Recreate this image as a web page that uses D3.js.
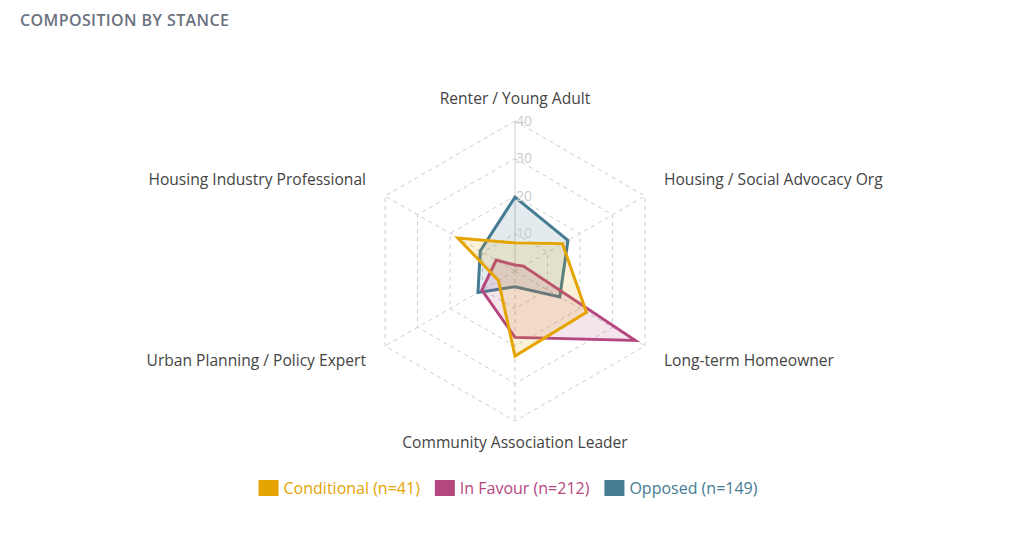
<!DOCTYPE html>
<html>
<head>
<meta charset="utf-8">
<script src="https://cdn.jsdelivr.net/npm/d3@7"></script>
<style>
  body { margin: 0; background: #fff; font-family: 'Open Sans', sans-serif; }
  svg { display: block; }
</style>
</head>
<body>
<svg id="chart" width="1024" height="534"></svg>
<script>
// axes go clockwise starting at the top
const axes = [
  'Renter / Young Adult',
  'Housing / Social Advocacy Org',
  'Long-term Homeowner',
  'Community Association Leader',
  'Urban Planning / Policy Expert',
  'Housing Industry Professional'
]
const seriesNames = ['Conditional', 'In Favour', 'Opposed']
const seriesCounts = [41, 212, 149]
const seriesColors = ['#e5a400', '#b5477f', '#457b93']

const conditional = [7.5, 14.6, 22.0, 22.7, 5.1, 17.6]
const inFavour = [1.6, 2.6, 37.0, 17.7, 10.2, 5.8]
const opposed = [19.7, 16.3, 13.8, 4.2, 11.4, 10.7]
const seriesValues = [conditional, inFavour, opposed]

const ringTicks = [10, 20, 30, 40]

const svg = d3.select('#chart')
const cx = 515
const cy = 271
const R = 150

let rScale = d3.scaleLinear().domain([0, 40]).range([0, R])
let angle = d3.scaleLinear().domain([0, axes.length]).range([0, 2 * Math.PI])

const pt = (i, v) => {
  let a = angle(i)
  return [cx + rScale(v) * Math.sin(a), cy - rScale(v) * Math.cos(a)]
}

// title
svg
  .append('text')
  .text('COMPOSITION BY STANCE')
  .attr('x', 20)
  .attr('y', 20)
  .attr('dy', '0.35em')
  .style('font-size', '16px')
  .style('font-weight', '600')
  .style('letter-spacing', '0.4px')
  .style('fill', '#6b7280')

let grid = svg.append('g')

// rings
ringTicks.forEach((t) => {
  grid
    .append('polygon')
    .attr('points', axes.map((a, i) => pt(i, t).join(',')).join(' '))
    .attr('fill', 'none')
    .attr('stroke', '#cccccc')
    .attr('stroke-width', 1)
    .attr('stroke-dasharray', '4,4')
})

// spokes
axes.forEach((a, i) => {
  let [x2, y2] = pt(i, 40)
  grid
    .append('line')
    .attr('x1', cx)
    .attr('y1', cy)
    .attr('x2', x2)
    .attr('y2', y2)
    .attr('stroke', '#cccccc')
    .attr('stroke-width', 1)
    .attr('stroke-dasharray', i == 0 ? null : '4,4')
})

// series, drawn back to front
for (let s = seriesValues.length - 1; s >= 0; s--) {
  let pts = seriesValues[s].map((v, i) => pt(i, v))
  svg
    .append('path')
    .attr('d', d3.line().curve(d3.curveLinearClosed)(pts))
    .attr('fill', seriesColors[s])
    .attr('fill-opacity', 0.15)
    .attr('stroke', seriesColors[s])
    .attr('stroke-width', 3)
    .attr('stroke-linejoin', 'miter')
}

// ring tick labels
ringTicks.forEach((t) => {
  svg
    .append('text')
    .text(t)
    .attr('x', cx + 1)
    .attr('y', cy - rScale(t))
    .attr('dy', '0.35em')
    .style('font-size', '14px')
    .style('fill', '#cccccc')
})

// axis labels
axes.forEach((a, i) => {
  let c = Math.cos(angle(i))
  let lx = cx + 172 * Math.sin(angle(i))
  let ly = cy - 172 * c
  let side = Math.abs(lx - cx) > 1
  if (side) ly += c > 0 ? -5 : 4
  let anchor = !side ? 'middle' : lx > cx ? 'start' : 'end'
  svg
    .append('text')
    .text(a)
    .attr('x', lx)
    .attr('y', ly)
    .attr('dy', '0.35em')
    .attr('text-anchor', anchor)
    .style('font-size', '15.6px')
    .style('fill', '#444444')
})

// legend
let legend = svg.append('g')
let lx = 0
seriesNames.forEach((n, i) => {
  let g = legend.append('g').attr('transform', `translate(${lx},0)`)
  g.append('rect')
    .attr('x', 0)
    .attr('y', -8)
    .attr('width', 20)
    .attr('height', 16)
    .attr('fill', seriesColors[i])
  let t = g
    .append('text')
    .text(`${n} (n=${seriesCounts[i]})`)
    .attr('x', 25)
    .attr('dy', '0.35em')
    .style('font-size', '16px')
    .style('fill', seriesColors[i])
  lx += 25 + t.node().getComputedTextLength() + 15
})
let legendW = lx - 15
legend.attr('transform', `translate(${508 - legendW / 2},488)`)
</script>
</body>
</html>
